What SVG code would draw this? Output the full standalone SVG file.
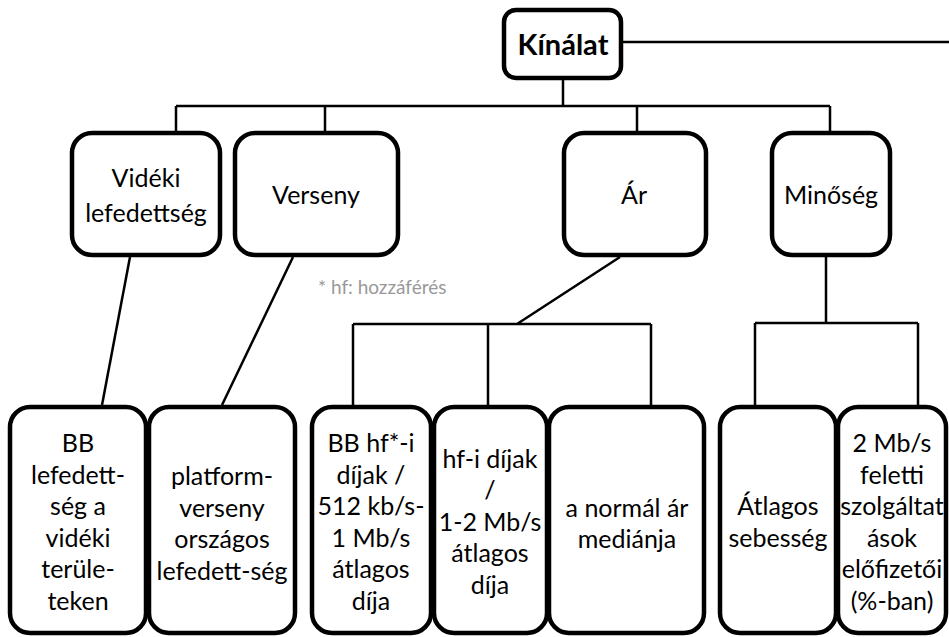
<svg xmlns="http://www.w3.org/2000/svg" width="949" height="637" viewBox="0 0 949 637">
<style>
.box{fill:#fff;stroke:#000;stroke-width:4.5}
.c{fill:none;stroke:#000;stroke-width:2.5}
text{font-family:Lato,"Open Sans",sans-serif;fill:#000;text-anchor:middle}
.l2{font-size:25px}
.b{font-size:25px}
.top{font-size:29px;font-weight:bold}
.note{font-size:19px;fill:#999;text-anchor:start}
</style>
<rect width="949" height="637" fill="#fff"/>
<g id="connectors">
<path class="c" d="M623 42 H949"/>
<path class="c" d="M563 80 V106 M176 106 H830 M176 106 V133 M325 106 V133 M637 106 V133 M830 106 V133"/>
<path class="c" d="M130 257 L102 405"/>
<path class="c" d="M293 257 L222 405"/>
<path class="c" d="M620 257 L517 324 M353 324 H651 M353 324 V405 M488 324 V405 M651 324 V405"/>
<path class="c" d="M826 257 V323 M755 323 H918 M755 323 V405 M918 323 V405"/>
</g>
<g id="kinalat">
<rect class="box" x="504" y="10" width="117" height="68" rx="12"/>
<text class="top" x="563" y="55">Kínálat</text>
</g>
<g id="videki">
<rect class="box" x="72" y="133" width="148" height="122" rx="20"/>
<text class="l2" x="146" y="187">Vidéki</text>
<text class="l2" x="146" y="222">lefedettség</text>
</g>
<g id="verseny">
<rect class="box" x="235" y="133" width="163" height="122" rx="20"/>
<text class="l2" x="316" y="204">Verseny</text>
</g>
<g id="ar">
<rect class="box" x="564" y="133" width="142" height="122" rx="20"/>
<text class="l2" x="634" y="204">Ár</text>
</g>
<g id="minoseg">
<rect class="box" x="772" y="133" width="118" height="122" rx="20"/>
<text class="l2" x="831" y="204">Minőség</text>
</g>
<text class="note" x="318" y="294">* hf: hozzáférés</text>
<g id="bb-lefedettseg">
<rect class="box" x="10" y="407" width="136" height="226" rx="20"/>
<text class="b" x="78" y="452">BB</text>
<text class="b" x="78" y="484">lefedett-</text>
<text class="b" x="78" y="515">ség a</text>
<text class="b" x="78" y="547">vidéki</text>
<text class="b" x="78" y="578">terüle-</text>
<text class="b" x="78" y="610">teken</text>
</g>
<g id="platformverseny">
<rect class="box" x="149" y="407" width="146" height="226" rx="20"/>
<text class="b" x="222" y="485">platform-</text>
<text class="b" x="222" y="517">verseny</text>
<text class="b" x="222" y="548">országos</text>
<text class="b" x="222" y="580">lefedett-ség</text>
</g>
<g id="bb-hf-dijak">
<rect class="box" x="312" y="407" width="119" height="226" rx="20"/>
<text class="b" x="371" y="452">BB hf*-i</text>
<text class="b" x="371" y="484">díjak /</text>
<text class="b" x="371" y="515">512 kb/s-</text>
<text class="b" x="371" y="547">1 Mb/s</text>
<text class="b" x="371" y="578">átlagos</text>
<text class="b" x="371" y="610">díja</text>
</g>
<g id="hf-dijak">
<rect class="box" x="434" y="407" width="113" height="226" rx="20"/>
<text class="b" x="490" y="468">hf-i díjak</text>
<text class="b" x="490" y="499">/</text>
<text class="b" x="490" y="531">1-2 Mb/s</text>
<text class="b" x="490" y="562">átlagos</text>
<text class="b" x="490" y="594">díja</text>
</g>
<g id="normal-ar">
<rect class="box" x="549" y="407" width="155" height="226" rx="20"/>
<text class="b" x="627" y="517">a normál ár</text>
<text class="b" x="627" y="548">mediánja</text>
</g>
<g id="atlagos-sebesseg">
<rect class="box" x="720" y="407" width="116" height="226" rx="20"/>
<text class="b" x="778" y="515">Átlagos</text>
<text class="b" x="778" y="547">sebesség</text>
</g>
<g id="elofizetok">
<rect class="box" x="838" y="407" width="108" height="226" rx="20"/>
<text class="b" x="892" y="452">2 Mb/s</text>
<text class="b" x="892" y="484">feletti</text>
<text class="b" x="892" y="515">szolgáltat</text>
<text class="b" x="892" y="547">ások</text>
<text class="b" x="892" y="578">előfizetői</text>
<text class="b" x="892" y="610">(%-ban)</text>
</g>
</svg>
